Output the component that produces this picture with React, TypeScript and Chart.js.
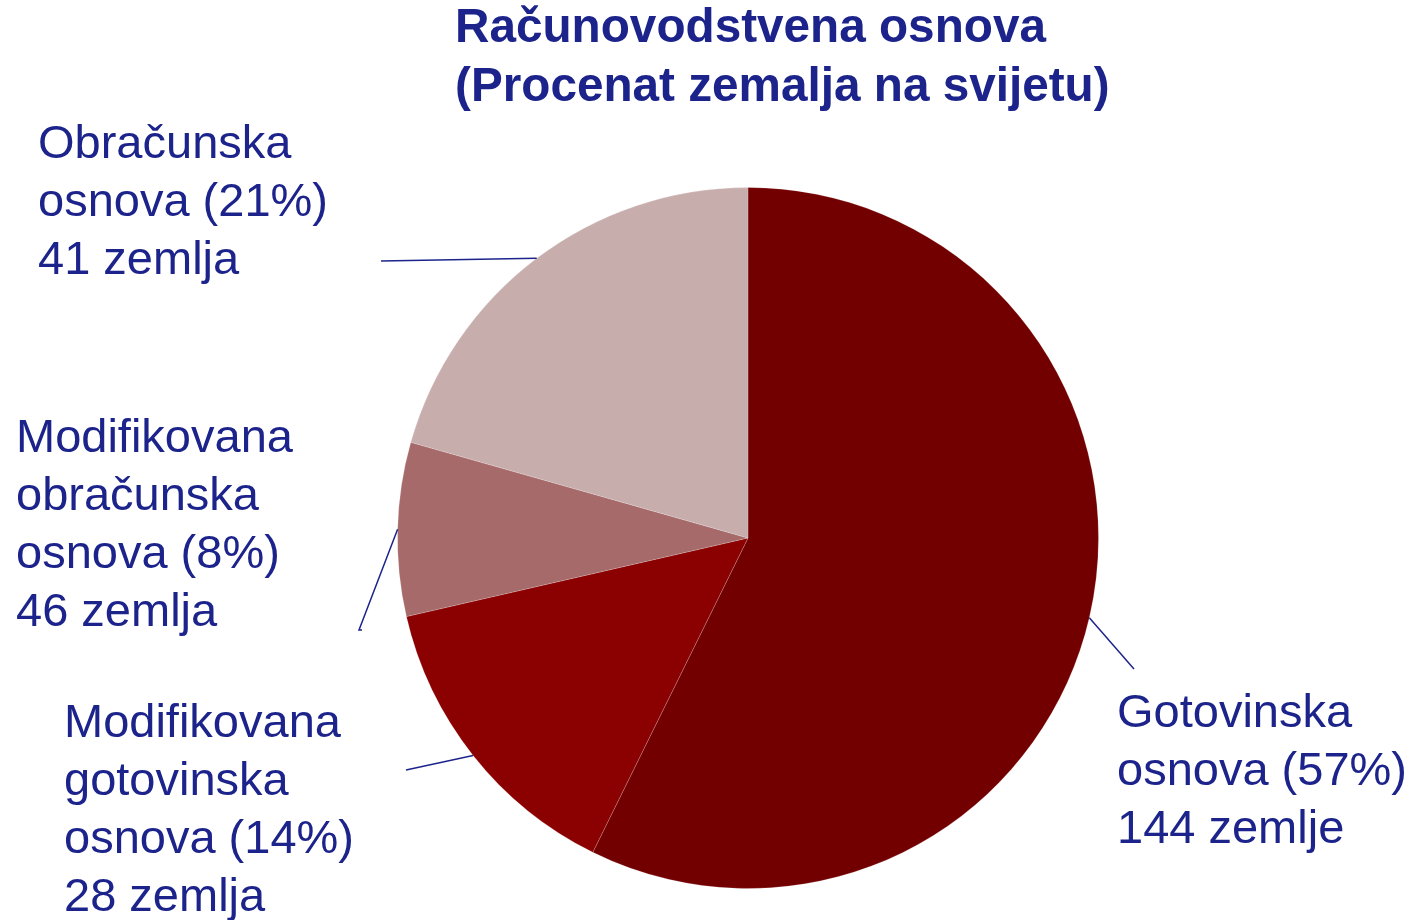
import React, { useEffect, useRef } from "react";
import { Chart, registerables } from "chart.js";

Chart.register(...registerables);

const categories = [
  "Gotovinska osnova",
  "Modifikovana gotovinska osnova",
  "Modifikovana obračunska osnova",
  "Obračunska osnova",
];
const shares = [57.3, 14.1, 8.0, 20.6];
const countries = [144, 28, 46, 41];
const sliceColors = ["#730000", "#8b0000", "#a66a6a", "#c8adad"];
const labelLines = [
  ["Gotovinska", "osnova (57%)", "144 zemlje"],
  ["Modifikovana", "gotovinska", "osnova (14%)", "28 zemlja"],
  ["Modifikovana", "obračunska", "osnova (8%)", "46 zemlja"],
  ["Obračunska", "osnova (21%)", "41 zemlja"],
];
const titleLines = ["Računovodstvena osnova", "(Procenat zemalja na svijetu)"];

const TEXT_COLOR = "#1c248c";
const FONT = '"Liberation Sans", Arial, sans-serif';

// label layout: text anchor (left x, first line center y) and leader end point
const labelLayout = [
  { x: 1117, y: 714, ex: 1134, ey: 669 },
  { x: 64, y: 724, ex: 406, ey: 770 },
  { x: 16, y: 439, ex: 359, ey: 630 },
  { x: 38, y: 145, ex: 381, ey: 261 },
];

const labelsPlugin = {
  id: "pieLabels",
  afterDraw(chart: any) {
    const ctx = chart.ctx;
    const meta = chart.getDatasetMeta(0);
    ctx.save();
    // title
    ctx.fillStyle = TEXT_COLOR;
    ctx.textBaseline = "middle";
    ctx.textAlign = "left";
    ctx.font = `bold 47.7px ${FONT}`;
    titleLines.forEach((t, i) => ctx.fillText(t, 455, 29 + i * 59));

    meta.data.forEach((arc: any, i: number) => {
      const lay = labelLayout[i];
      const mid = (arc.startAngle + arc.endAngle) / 2;
      const r = arc.outerRadius;
      const sx = arc.x + Math.cos(mid) * r;
      const sy = arc.y + Math.sin(mid) * r;
      ctx.strokeStyle = TEXT_COLOR;
      ctx.lineWidth = 1.5;
      ctx.beginPath();
      ctx.moveTo(sx, sy);
      ctx.lineTo(lay.ex, lay.ey);
      if (i === 2) ctx.lineTo(lay.ex + 3, lay.ey);
      ctx.stroke();

      ctx.font = `47px ${FONT}`;
      ctx.fillStyle = TEXT_COLOR;
      labelLines[i].forEach((t, j) => ctx.fillText(t, lay.x, lay.y + j * 58));
    });
    ctx.restore();
  },
};

export default function App() {
  const ref = useRef<HTMLCanvasElement | null>(null);
  useEffect(() => {
    if (!ref.current) return;
    const chart = new Chart(ref.current, {
      type: "pie",
      data: {
        labels: categories,
        datasets: [
          {
            data: shares,
            backgroundColor: sliceColors,
            borderColor: "rgba(255,255,255,0.18)",
            borderWidth: 1,
            countries,
          } as any,
        ],
      },
      options: {
        animation: false,
        responsive: true,
        maintainAspectRatio: false,
        layout: { padding: { left: 397, right: 315, top: 187, bottom: 31 } },
        plugins: {
          legend: { display: false },
          title: { display: false },
          tooltip: { enabled: false },
        },
      },
      plugins: [labelsPlugin],
    });
    return () => chart.destroy();
  }, []);
  return (
    <div
      style={{
        position: "absolute",
        left: 0,
        top: 0,
        width: 1414,
        height: 920,
        background: "#ffffff",
      }}
    >
      <canvas ref={ref} />
    </div>
  );
}
